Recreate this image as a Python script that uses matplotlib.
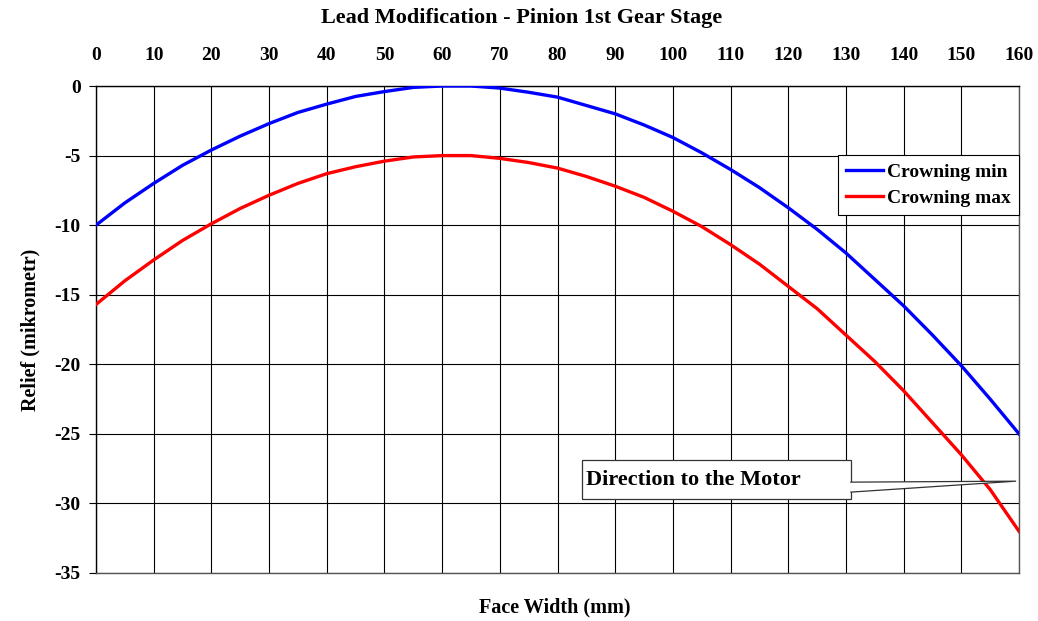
import numpy as np
import matplotlib.pyplot as plt
from matplotlib.patches import Rectangle, Polygon

plt.rcParams['font.family'] = ['Liberation Serif', 'DejaVu Serif']
plt.rcParams['font.weight'] = 'bold'
plt.rcParams['axes.unicode_minus'] = False

# face width positions (mm)
face_width = [0, 5, 10, 15, 20, 25, 30, 35, 40, 45, 50, 55, 60, 65, 70, 75, 80,
              85, 90, 95, 100, 105, 110, 115, 120, 125, 130, 135, 140, 145, 150, 155, 160]

# relief values (mikrometr)
crowning_min = [-10.0, -8.4, -7.0, -5.7, -4.6, -3.6, -2.7, -1.9, -1.3, -0.75, -0.4, -0.1, 0.0,
                0.0, -0.15, -0.45, -0.8, -1.4, -2.0, -2.8, -3.7, -4.8, -6.0, -7.3, -8.75,
                -10.3, -12.0, -13.9, -15.8, -17.9, -20.1, -22.5, -25.0]
crowning_max = [-15.7, -14.0, -12.5, -11.1, -9.9, -8.8, -7.85, -7.0, -6.3, -5.8, -5.4, -5.1, -5.0,
                -5.0, -5.2, -5.5, -5.9, -6.5, -7.2, -8.0, -9.0, -10.1, -11.4, -12.8, -14.4,
                -16.0, -17.9, -19.8, -21.9, -24.2, -26.5, -29.0, -32.0]

x_ticks = list(range(0, 161, 10))
y_ticks = list(range(0, -36, -5))

fig = plt.figure(figsize=(10.38, 6.21), dpi=100)
ax = fig.add_axes([0.0925, 0.0773, 0.8892, 0.7842])

ax.plot(face_width, crowning_min, color='#0000ff', lw=2.4, label='Crowning min', zorder=3)
ax.plot(face_width, crowning_max, color='#ff0000', lw=2.4, label='Crowning max', zorder=3)

ax.set_xlim(0, 160)
ax.set_ylim(-35, 0)
ax.set_xticks(x_ticks)
ax.set_yticks(y_ticks)
ax.xaxis.tick_top()
ax.tick_params(axis='x', length=0, pad=16, labelsize=14)
ax.tick_params(axis='y', length=5, width=0.8, pad=6, labelsize=14, direction='out')
ax.grid(True, color='black', lw=0.8)
ax.set_axisbelow(True)
for sp in ax.spines.values():
    sp.set_color('#555555')
    sp.set_linewidth(1.0)
ax.spines['top'].set_color('black')
ax.spines['left'].set_color('black')

leg = ax.legend(loc='upper right', bbox_to_anchor=(1.0, 0.858), fontsize=14,
                frameon=True, fancybox=False, handlelength=1.9, handletextpad=0.25,
                borderpad=0.4, labelspacing=0.45, borderaxespad=0)
leg.get_frame().set_edgecolor('black')
leg.get_frame().set_linewidth(0.8)
leg.get_frame().set_alpha(1)

# callout "Direction to the Motor"
ax.add_patch(Rectangle((84.2, -29.7), 46.7, 2.8, facecolor='white', edgecolor='#333333',
                       lw=0.9, zorder=4))
ax.add_patch(Polygon([(130.75, -28.47), (159.5, -28.4), (130.75, -29.19)], closed=False,
                     facecolor='white', edgecolor='#333333', lw=0.9, zorder=5))
ax.text(84.9, -28.3, 'Direction to the Motor', fontsize=16, va='center', ha='left', zorder=6)

fig.text(0.503, 0.971, 'Lead Modification - Pinion 1st Gear Stage', ha='center', va='center',
         fontsize=16)
fig.text(0.534, 0.022, 'Face Width (mm)', ha='center', va='center', fontsize=14.5)
fig.text(0.029, 0.469, 'Relief (mikrometr)', ha='center', va='center', rotation=90, fontsize=14.5)

fig.savefig('out.png', dpi=100)
